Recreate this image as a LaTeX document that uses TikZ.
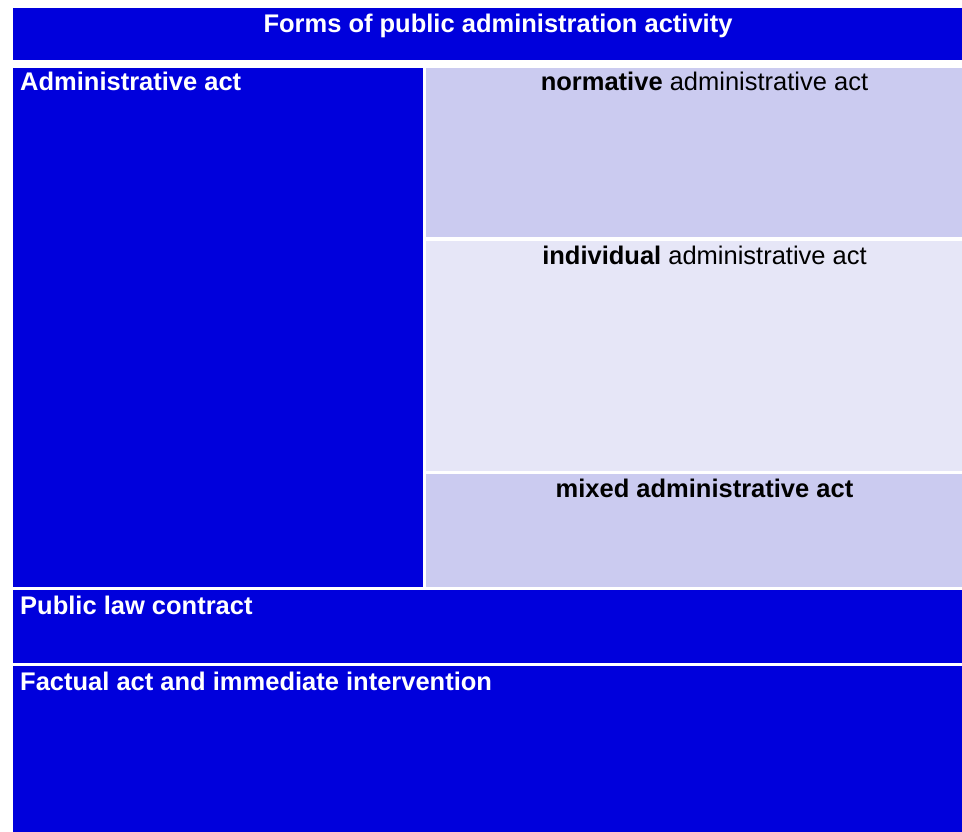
\documentclass[tikz,border=0pt]{standalone}
\usepackage{fontspec}
\setmainfont{Liberation Sans}
\definecolor{dblue}{RGB}{0,0,220}
\definecolor{lightA}{RGB}{203,203,240}
\definecolor{lightB}{RGB}{230,230,247}
\begin{document}
\begin{tikzpicture}[x=1pt,y=-1pt,
  txt/.style={inner sep=0pt,font=\fontsize{25.5}{30}\selectfont},
  wtxt/.style={txt,text=white,font=\fontsize{25.5}{30}\selectfont\bfseries},
  btxt/.style={txt,text=black}]
\useasboundingbox (0,0) rectangle (962,832);
\clip (0,0) rectangle (962,832);
\fill[white] (0,0) rectangle (962,832);
% boxes
\fill[dblue] (13,8) rectangle (983,60);
\fill[dblue] (13,68) rectangle (423,587);
\fill[lightA] (426,68) rectangle (983,237);
\fill[lightB] (426,241) rectangle (983,471);
\fill[lightA] (426,474) rectangle (983,587);
\fill[dblue] (13,590) rectangle (983,663);
\fill[dblue] (13,666) rectangle (983,850);
% texts
\node[wtxt,anchor=base] (title) at (498,33) {Forms of public administration activity};
\node[wtxt,anchor=base west] (aa) at (20,91) {Administrative act};
\node[btxt,anchor=base] (norm) at (704.5,91) {\textbf{normative} administrative act};
\node[btxt,anchor=base] (indiv) at (704.5,264) {\textbf{individual} administrative act};
\node[btxt,anchor=base] (mixed) at (704.5,497) {\textbf{mixed administrative act}};
\node[wtxt,anchor=base west] (plc) at (20,614) {Public law contract};
\node[wtxt,anchor=base west] (fact) at (20,690) {Factual act and immediate intervention};
\end{tikzpicture}
\end{document}
